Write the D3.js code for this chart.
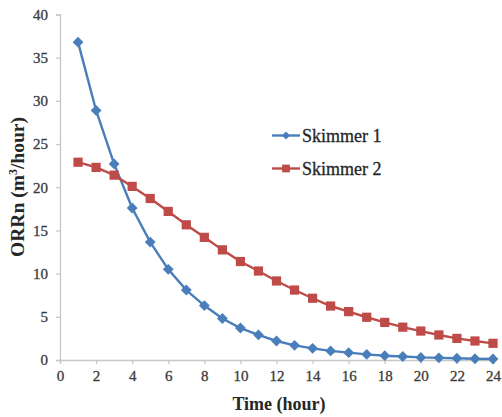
<!DOCTYPE html>
<html><head><meta charset="utf-8">
<script src="https://cdn.jsdelivr.net/npm/d3@7"></script>
<style>body{margin:0;background:#fff;}svg{display:block;}
text{font-family:"Liberation Serif","Times New Roman",serif;}</style>
</head><body>
<script>
const hours = d3.range(1, 25);
const skimmer1 = [36.8, 28.9, 22.7, 17.6, 13.65, 10.5, 8.1, 6.3, 4.8, 3.7, 2.9, 2.2, 1.7, 1.35, 1.05, 0.85, 0.65, 0.5, 0.4, 0.3, 0.25, 0.2, 0.15, 0.12];
const skimmer2 = [22.9, 22.3, 21.4, 20.1, 18.7, 17.2, 15.65, 14.2, 12.75, 11.4, 10.3, 9.15, 8.1, 7.15, 6.25, 5.6, 4.95, 4.35, 3.8, 3.35, 2.9, 2.5, 2.2, 1.93];
const seriesNames = ["Skimmer 1", "Skimmer 2"];
const xTicks = d3.range(0, 25, 2);
const yTicks = d3.range(0, 41, 5);

const W = 502, H = 417;
const svg = d3.select("body").append("svg").attr("width", W).attr("height", H);
const x = d3.scaleLinear().domain([0, 24]).range([60, 493]);
const y = d3.scaleLinear().domain([0, 40]).range([360, 14.5]);
const axisColor = "#c8c8c8";

const gy = svg.append("g").attr("transform", "translate(60,0)")
  .call(d3.axisLeft(y).tickValues(yTicks).tickSize(4).tickPadding(8));
const gx = svg.append("g").attr("transform", "translate(0,360)")
  .call(d3.axisBottom(x).tickValues(xTicks).tickSize(4).tickPadding(6));
[gx, gy].forEach(g => {
  g.attr("font-family", null).attr("font-size", 15);
  g.select(".domain").attr("stroke", axisColor).attr("stroke-width", 1.3);
  g.selectAll(".tick line").attr("stroke", axisColor).attr("stroke-width", 1.3);
  g.selectAll(".tick text").attr("fill", "#3a3a3a").attr("stroke", "#3a3a3a").attr("stroke-width", 0.3);
});

svg.append("text").attr("x", 279).attr("y", 410).attr("text-anchor", "middle")
  .attr("font-size", 18).attr("font-weight", "bold").attr("fill", "#262626")
  .text("Time (hour)");
const yt = svg.append("text").attr("transform", "translate(24,187) rotate(-90)").attr("text-anchor", "middle")
  .attr("font-size", 19.5).attr("font-weight", "bold").attr("fill", "#262626");
yt.append("tspan").text("ORRn (m");
yt.append("tspan").attr("dy", -7).attr("font-size", 12).text("3");
yt.append("tspan").attr("dy", 7).text("/hour)");

const colors = ["#4a7ebb", "#be4b48"];
const data = [skimmer1, skimmer2];
const line = d3.line().x((d, i) => x(hours[i])).y(d => y(d));
const diamond = d3.symbol().type(d3.symbolDiamond2).size(75);
const square = d3.symbol().type(d3.symbolSquare).size(85);

data.forEach((vals, k) => {
  svg.append("path").datum(vals).attr("d", line).attr("fill", "none")
    .attr("stroke", colors[k]).attr("stroke-width", 2.4);
  svg.append("g").selectAll("path").data(vals).join("path")
    .attr("transform", (d, i) => `translate(${x(hours[i])},${y(d)})`)
    .attr("d", k === 0 ? diamond : square).attr("fill", colors[k]);
});

// legend
const leg = svg.append("g");
seriesNames.forEach((name, k) => {
  const ly = 135.5 + k * 33;
  leg.append("line").attr("x1", 272).attr("x2", 300).attr("y1", ly).attr("y2", ly)
    .attr("stroke", colors[k]).attr("stroke-width", 2.4);
  leg.append("path").attr("transform", `translate(286,${ly})`)
    .attr("d", k === 0 ? d3.symbol().type(d3.symbolDiamond2).size(40) : d3.symbol().type(d3.symbolSquare).size(60))
    .attr("fill", colors[k]);
  leg.append("text").attr("x", 302).attr("y", ly + 6)
    .attr("font-size", 18).attr("fill", "#262626").attr("stroke", "#262626").attr("stroke-width", 0.3).text(name);
});
</script>
</body></html>
